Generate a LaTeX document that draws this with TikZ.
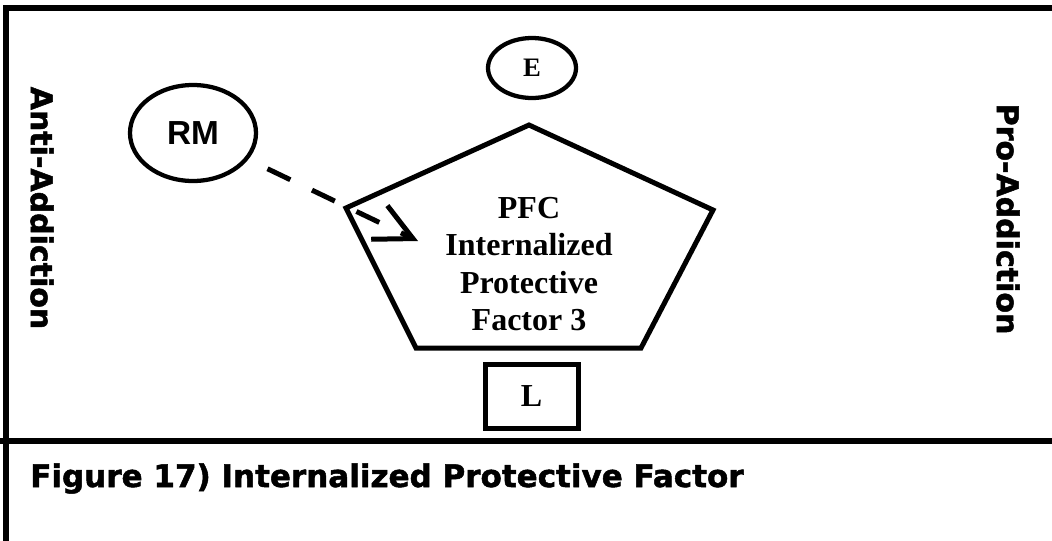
\documentclass[tikz,border=0pt]{standalone}
\usepackage{fontspec}
\setmainfont{Liberation Serif}
\newfontfamily\heavyfont{DejaVu Sans}[BoldFeatures={FakeBold=1.6}]
\newfontfamily\arialfont{Liberation Sans}
\usetikzlibrary{arrows.meta,shapes.geometric}
\tikzset{
  frameline/.style={line width=4.5pt},
  shapeline/.style={line width=3.75pt},
  ovalnode/.style={draw, ellipse, line width=3.2pt, inner sep=0pt},
  sidelabel/.style={rotate=-90, font=\heavyfont\bfseries\fontsize{22.5}{26}\selectfont, inner sep=0pt},
  serifbold/.style={font=\bfseries\fontsize{24}{28}\selectfont, align=center, inner sep=0pt},
  dasharrow/.style={line width=3.75pt, dash pattern=on 19pt off 18pt,
     -{Straight Barb[length=28pt, width=28pt, line width=3.75pt]}, shorten <=16pt}
}
\begin{document}
\begin{tikzpicture}[x=0.75pt, y=-0.75pt]
\useasboundingbox (0,0) rectangle (1052,540);
% frame
\coordinate (tl) at (5.5,8);
\coordinate (tr) at (1060,8);
\coordinate (bl) at (5.5,545);
\coordinate (dl) at (-5,441);
\coordinate (dr) at (1060,441);
\draw[frameline] (bl) -- (tl) -- (tr);
\draw[frameline] (dl) -- (dr);
% pentagon
\coordinate (p1) at (529,125);
\coordinate (p2) at (713,210);
\coordinate (p3) at (641,348);
\coordinate (p4) at (416,348);
\coordinate (p5) at (346,208);
\draw[shapeline, line join=miter] (p1) -- (p2) -- (p3) -- (p4) -- (p5) -- cycle;
\node[serifbold] (pfc) at (529,264) {PFC\\Internalized\\Protective\\Factor 3};
% E
\node[ovalnode, minimum width=88*0.75pt, minimum height=60*0.75pt,
      font=\bfseries\fontsize{20}{24}\selectfont] (E) at (532,68) {E};
% RM
\node[ovalnode, minimum width=126*0.75pt, minimum height=96*0.75pt,
      font=\arialfont\bfseries\fontsize{25}{29}\selectfont] (RM) at (193,133) {RM};
% L
\node[draw, line width=3.75pt, minimum width=93*0.75pt, minimum height=64*0.75pt,
      font=\bfseries\fontsize{24}{28}\selectfont, inner sep=0pt] (L) at (531.5,396) {L};
% arrow
\coordinate (tip) at (418,241);
\draw[dasharrow] (RM) -- (tip);
% side labels
\node[sidelabel] (anti) at (42,208) {Anti-Addiction};
\node[sidelabel] (pro) at (1008,219) {Pro-Addiction};
% caption
\node[anchor=base west, inner sep=0pt, font=\heavyfont\bfseries\fontsize{23.25}{27}\selectfont] (cap) at (30,487) {Figure 17) Internalized Protective Factor};
\end{tikzpicture}
\end{document}
